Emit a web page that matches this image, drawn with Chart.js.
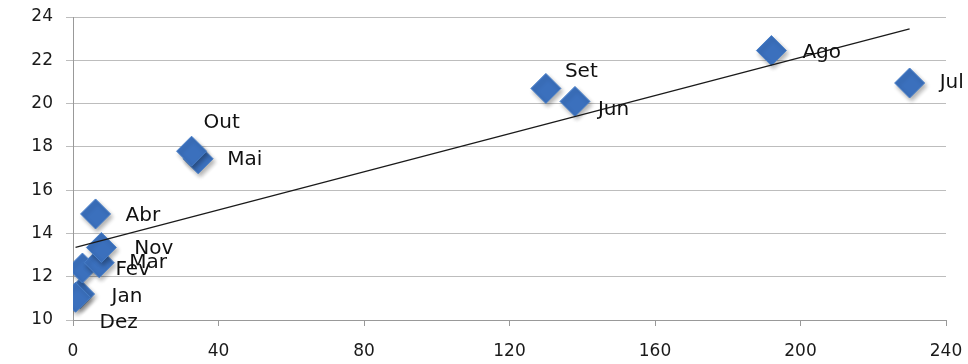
<!DOCTYPE html>
<html>
<head>
<meta charset="utf-8">
<script src="https://cdn.jsdelivr.net/npm/chart.js@4.4.0/dist/chart.umd.min.js"></script>
<style>
  html, body { margin: 0; padding: 0; background: #fff; }
</style>
</head>
<body>
<canvas id="chart" width="968" height="364"></canvas>
<script>
// dados
const months = ['Jan', 'Fev', 'Mar', 'Abr', 'Mai', 'Jun', 'Jul', 'Ago', 'Set', 'Out', 'Nov', 'Dez'];
const xValues = [1.8, 2.6, 7.2, 6.2, 34.4, 138, 230, 192, 130, 32.6, 7.8, 0.7];
const yValues = [11.2, 12.4, 12.65, 14.9, 17.45, 20.1, 20.95, 22.45, 20.7, 17.8, 13.35, 11.05];
const trendX = [0.7, 230];
const trendY = [13.36, 23.45];
const xTicks = [0, 40, 80, 120, 160, 200, 240];
const yTicks = [10, 12, 14, 16, 18, 20, 22, 24];

// deslocamento dos rótulos (px) em relação ao ponto
const labelOffsets = {
  Jul: [30, 0], Ago: [31, 2], Set: [19, -17], Jun: [23, 8], Out: [12, -28],
  Mai: [29, 1], Abr: [30, 2], Nov: [33, 1], Mar: [30, 0], Fev: [33, 2],
  Jan: [32, 3], Dez: [24, 26]
};

const pointLabels = {
  id: 'pointLabels',
  afterDatasetsDraw(chart) {
    const meta = chart.getDatasetMeta(1);
    const ctx = chart.ctx;
    ctx.save();
    ctx.font = '20px "DejaVu Sans"';
    ctx.fillStyle = '#111';
    ctx.textBaseline = 'middle';
    meta.data.forEach((pt, i) => {
      const off = labelOffsets[months[i]] || [30, 2];
      ctx.fillText(months[i], pt.x + off[0], pt.y + off[1]);
    });
    ctx.restore();
  }
};

const shadow = {
  id: 'shadow',
  beforeDatasetDraw(chart, args) {
    if (args.index !== 1) return;
    const ctx = chart.ctx;
    ctx.save();
    ctx.shadowColor = 'rgba(0,0,0,0.3)';
    ctx.shadowBlur = 4;
    ctx.shadowOffsetX = 2;
    ctx.shadowOffsetY = 3;
  },
  afterDatasetDraw(chart, args) {
    if (args.index !== 1) return;
    chart.ctx.restore();
  }
};

const tickFont = { family: '"DejaVu Sans"', size: 17 };

new Chart(document.getElementById('chart').getContext('2d'), {
  type: 'scatter',
  data: {
    datasets: [{
      data: trendX.map((x, i) => ({ x: x, y: trendY[i] })),
      showLine: true,
      borderColor: '#1a1a1a',
      borderWidth: 1.3,
      pointRadius: 0,
      order: 0
    }, {
      data: xValues.map((x, i) => ({ x: x, y: yValues[i] })),
      pointStyle: 'rectRot',
      pointRadius: 15,
      backgroundColor: '#3b70bd',
      borderColor: '#4a80c8',
      borderWidth: 1,
      order: 1
    }]
  },
  options: {
    responsive: false,
    animation: false,
    layout: { padding: { top: 17, right: 22, left: 0, bottom: 0 } },
    plugins: { legend: { display: false }, tooltip: { enabled: false } },
    scales: {
      x: {
        type: 'linear',
        min: 0, max: 240,
        afterBuildTicks: s => { s.ticks = xTicks.map(v => ({ value: v })); },
        afterFit: s => { s.height = 44; s.paddingLeft = 0; s.paddingRight = 0; },
        grid: { drawOnChartArea: false, drawTicks: true, tickLength: 6, color: '#999' },
        border: { color: '#999' },
        ticks: { font: tickFont, color: '#1a1a1a', padding: 15, maxRotation: 0 }
      },
      y: {
        min: 10, max: 24,
        afterBuildTicks: s => { s.ticks = yTicks.map(v => ({ value: v })); },
        afterFit: s => { s.width = 73; s.paddingTop = 0; s.paddingBottom = 0; },
        grid: { color: '#bdbdbd', tickLength: 7 },
        border: { color: '#999' },
        ticks: { font: tickFont, color: '#1a1a1a', padding: 13 }
      }
    }
  },
  plugins: [shadow, pointLabels]
});
</script>
</body>
</html>
